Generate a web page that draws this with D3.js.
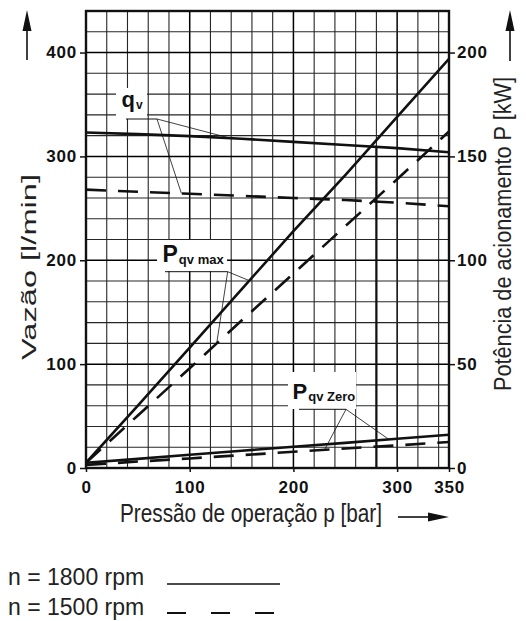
<!DOCTYPE html>
<html>
<head>
<meta charset="utf-8">
<script src="https://cdn.jsdelivr.net/npm/d3@7"></script>
<style>
  body { margin: 0; background: #fff; }
  svg { display: block; }
  .tick text { font-family: "Liberation Sans", Arial, sans-serif; font-weight: bold; font-size: 17px; letter-spacing: 0.8px; fill: #111; }
  .tick line { stroke: #111; stroke-width: 1.5; }
  .title { font-family: "Liberation Sans Narrow", "Arial Narrow", "Liberation Sans", sans-serif; font-size: 25px; fill: #222; }
  .legend { font-family: "Liberation Sans", Arial, sans-serif; font-size: 23px; fill: #222; }
  .lbl { font-family: "Liberation Sans", Arial, sans-serif; font-weight: bold; fill: #111; }
</style>
</head>
<body>
<div id="chart"></div>
<script>
// pressure in bar, flow in l/min, power in kW
const pressure = [0, 50, 100, 150, 200, 250, 300, 350];
const qv1800 = [323, 321.5, 319.5, 317, 314, 311, 308, 304];
const qv1500 = [268, 266, 264, 262, 260, 258, 255.5, 252];
const pMax1800 = [2.5, 30, 58, 86, 114, 141, 169, 197];
const pMax1500 = [2.5, 25.3, 48, 71, 93.6, 116.4, 139, 162];
const pZero1800 = [2.5, 4.4, 6.4, 8.3, 10.2, 12.1, 14.1, 16];
const pZero1500 = [1.5, 3.1, 4.6, 6.2, 7.8, 9.4, 10.9, 12.5];

const xTicks = [0, 100, 200, 300, 350];
const qTicks = [0, 100, 200, 300, 400];
const pTicks = [0, 50, 100, 150, 200];

const width = 526, height = 621;
const plot = { left: 86, right: 449, top: 11, bottom: 468 };

const svg = d3.select('#chart').append('svg')
    .attr('width', width)
    .attr('height', height);

const x = d3.scaleLinear().domain([0, 350]).range([plot.left, plot.right]);
const yQ = d3.scaleLinear().domain([0, 440]).range([plot.bottom, plot.top]);
const yP = d3.scaleLinear().domain([0, 220]).range([plot.bottom, plot.top]);

// grid
const grid = svg.append('g');
grid.selectAll('.vg')
    .data(d3.range(20, 350, 20))
    .join('line')
    .attr('x1', d => x(d)).attr('x2', d => x(d))
    .attr('y1', plot.top).attr('y2', plot.bottom)
    .attr('stroke', d => d % 100 === 0 ? '#000' : '#262626')
    .attr('stroke-width', d => d % 100 === 0 ? 1.5 : 1.1);
grid.selectAll('.hg')
    .data(d3.range(20, 440, 20))
    .join('line')
    .attr('y1', d => yQ(d)).attr('y2', d => yQ(d))
    .attr('x1', plot.left).attr('x2', plot.right)
    .attr('stroke', d => d % 100 === 0 ? '#000' : '#262626')
    .attr('stroke-width', d => d % 100 === 0 ? 1.5 : 1.1);

const at = series => d3.scaleLinear().domain(pressure).range(series);

// operating point marker at 280 bar
svg.append('line')
    .attr('x1', x(280)).attr('x2', x(280))
    .attr('y1', yQ(at(qv1800)(280))).attr('y2', yQ(0))
    .attr('stroke', '#111').attr('stroke-width', 2.2);

// callout boxes (white patches over the grid)
const callouts = [
    { main: 'q', sub: 'v', size: 22, subSize: 12, tx: 121.5, ty: 106.7, box: [116, 88, 31, 31],
      shelf: [126, 157, 119], targets: [[qv1800, yQ, 139], [qv1500, yQ, 92]] },
    { main: 'P', sub: 'qv max', size: 23, subSize: 13, tx: 162.5, ty: 261.7, box: [157, 240, 70, 31],
      shelf: [165, 227.7, 271.7], targets: [[pMax1800, yP, 157.5], [pMax1500, yP, 126]] },
    { main: 'P', sub: 'qv Zero', size: 22, subSize: 13, tx: 292.5, ty: 399.3, box: [288, 372, 68, 37],
      shelf: [299, 346, 409.3], targets: [[pZero1800, yP, 292], [pZero1500, yP, 230]] }
];

callouts.forEach(c => {
    svg.append('rect')
        .attr('x', c.box[0]).attr('y', c.box[1])
        .attr('width', c.box[2]).attr('height', c.box[3])
        .attr('fill', '#fff');
});

// curves
svg.append('clipPath').attr('id', 'clip')
    .append('rect')
    .attr('x', plot.left).attr('y', plot.top)
    .attr('width', plot.right - plot.left).attr('height', plot.bottom - plot.top);

const curves = [
    { values: qv1800, y: yQ, dash: null },
    { values: qv1500, y: yQ, dash: '20,12' },
    { values: pMax1800, y: yP, dash: null },
    { values: pMax1500, y: yP, dash: '20,12' },
    { values: pZero1800, y: yP, dash: null },
    { values: pZero1500, y: yP, dash: '20,12' }
];

const curveG = svg.append('g').attr('clip-path', 'url(#clip)');
curves.forEach(c => {
    const line = d3.line()
        .x((d, i) => x(pressure[i]))
        .y(d => c.y(d));
    curveG.append('path')
        .datum(c.values)
        .attr('d', line)
        .attr('fill', 'none')
        .attr('stroke', '#111')
        .attr('stroke-width', 2.6)
        .attr('stroke-dasharray', c.dash);
});

// callout text, shelves and leaders
callouts.forEach(c => {
    const t = svg.append('text')
        .attr('class', 'lbl')
        .attr('x', c.tx).attr('y', c.ty)
        .style('font-size', c.size + 'px')
        .text(c.main);
    t.append('tspan')
        .attr('dy', 2)
        .attr('dx', 1)
        .style('font-size', c.subSize + 'px')
        .text(c.sub);

    svg.append('line')
        .attr('x1', c.shelf[0]).attr('x2', c.shelf[1])
        .attr('y1', c.shelf[2]).attr('y2', c.shelf[2])
        .attr('stroke', '#111').attr('stroke-width', 1);

    c.targets.forEach(([series, ys, p]) => {
        svg.append('line')
            .attr('x1', c.shelf[1]).attr('y1', c.shelf[2])
            .attr('x2', x(p)).attr('y2', ys(at(series)(p)))
            .attr('stroke', '#111').attr('stroke-width', 0.8);
    });
});

// frame
svg.append('rect')
    .attr('x', plot.left).attr('y', plot.top)
    .attr('width', plot.right - plot.left).attr('height', plot.bottom - plot.top)
    .attr('fill', 'none')
    .attr('stroke', '#111')
    .attr('stroke-width', 2.4);

// axes
svg.append('g')
    .attr('transform', `translate(${plot.left},0)`)
    .call(d3.axisLeft(yQ).tickValues(qTicks).tickSize(6).tickPadding(3))
    .call(g => g.select('.domain').remove());

svg.append('g')
    .attr('transform', `translate(${plot.right},0)`)
    .call(d3.axisRight(yP).tickValues(pTicks).tickSize(6).tickPadding(2))
    .call(g => g.select('.domain').remove());

svg.append('g')
    .attr('transform', `translate(0,${plot.bottom})`)
    .call(d3.axisBottom(x).tickValues(xTicks).tickSize(4).tickPadding(9))
    .call(g => g.select('.domain').remove());

// axis titles
svg.append('text')
    .attr('class', 'title')
    .attr('x', 120).attr('y', 522)
    .attr('textLength', 262).attr('lengthAdjust', 'spacingAndGlyphs')
    .text('Pressão de operação p [bar]');

svg.append('text')
    .attr('class', 'title')
    .style('font-size', '21px')
    .attr('transform', 'translate(36,360) rotate(-90)')
    .attr('textLength', 186).attr('lengthAdjust', 'spacingAndGlyphs')
    .text('Vazão [l/min]');

svg.append('text')
    .attr('class', 'title')
    .style('font-size', '23px')
    .attr('transform', 'translate(511,391) rotate(-90)')
    .attr('textLength', 314).attr('lengthAdjust', 'spacingAndGlyphs')
    .text('Potência de acionamento P [kW]');

// direction arrows
function arrow(x1, y1, x2, y2) {
    const a = Math.atan2(y2 - y1, x2 - x1);
    const len = 21, half = 4.5;
    const bx = x2 - len * Math.cos(a), by = y2 - len * Math.sin(a);
    svg.append('line')
        .attr('x1', x1).attr('y1', y1).attr('x2', bx).attr('y2', by)
        .attr('stroke', '#111').attr('stroke-width', 1.6);
    svg.append('path')
        .attr('d', `M${x2},${y2} L${bx - half * Math.sin(a)},${by + half * Math.cos(a)} L${bx + half * Math.sin(a)},${by - half * Math.cos(a)} Z`)
        .attr('fill', '#111');
}
arrow(27, 60, 27, 10);
arrow(510, 61, 510, 10);
arrow(398, 517, 449, 517);

// legend
svg.append('text').attr('class', 'legend').attr('x', 8).attr('y', 585).text('n = 1800 rpm');
svg.append('line')
    .attr('x1', 167).attr('x2', 280).attr('y1', 584).attr('y2', 584)
    .attr('stroke', '#111').attr('stroke-width', 1.5);
svg.append('text').attr('class', 'legend').attr('x', 8).attr('y', 615).text('n = 1500 rpm');
svg.append('line')
    .attr('x1', 167).attr('x2', 280).attr('y1', 613).attr('y2', 613)
    .attr('stroke', '#111').attr('stroke-width', 2.2)
    .attr('stroke-dasharray', '19,25');
</script>
</body>
</html>
